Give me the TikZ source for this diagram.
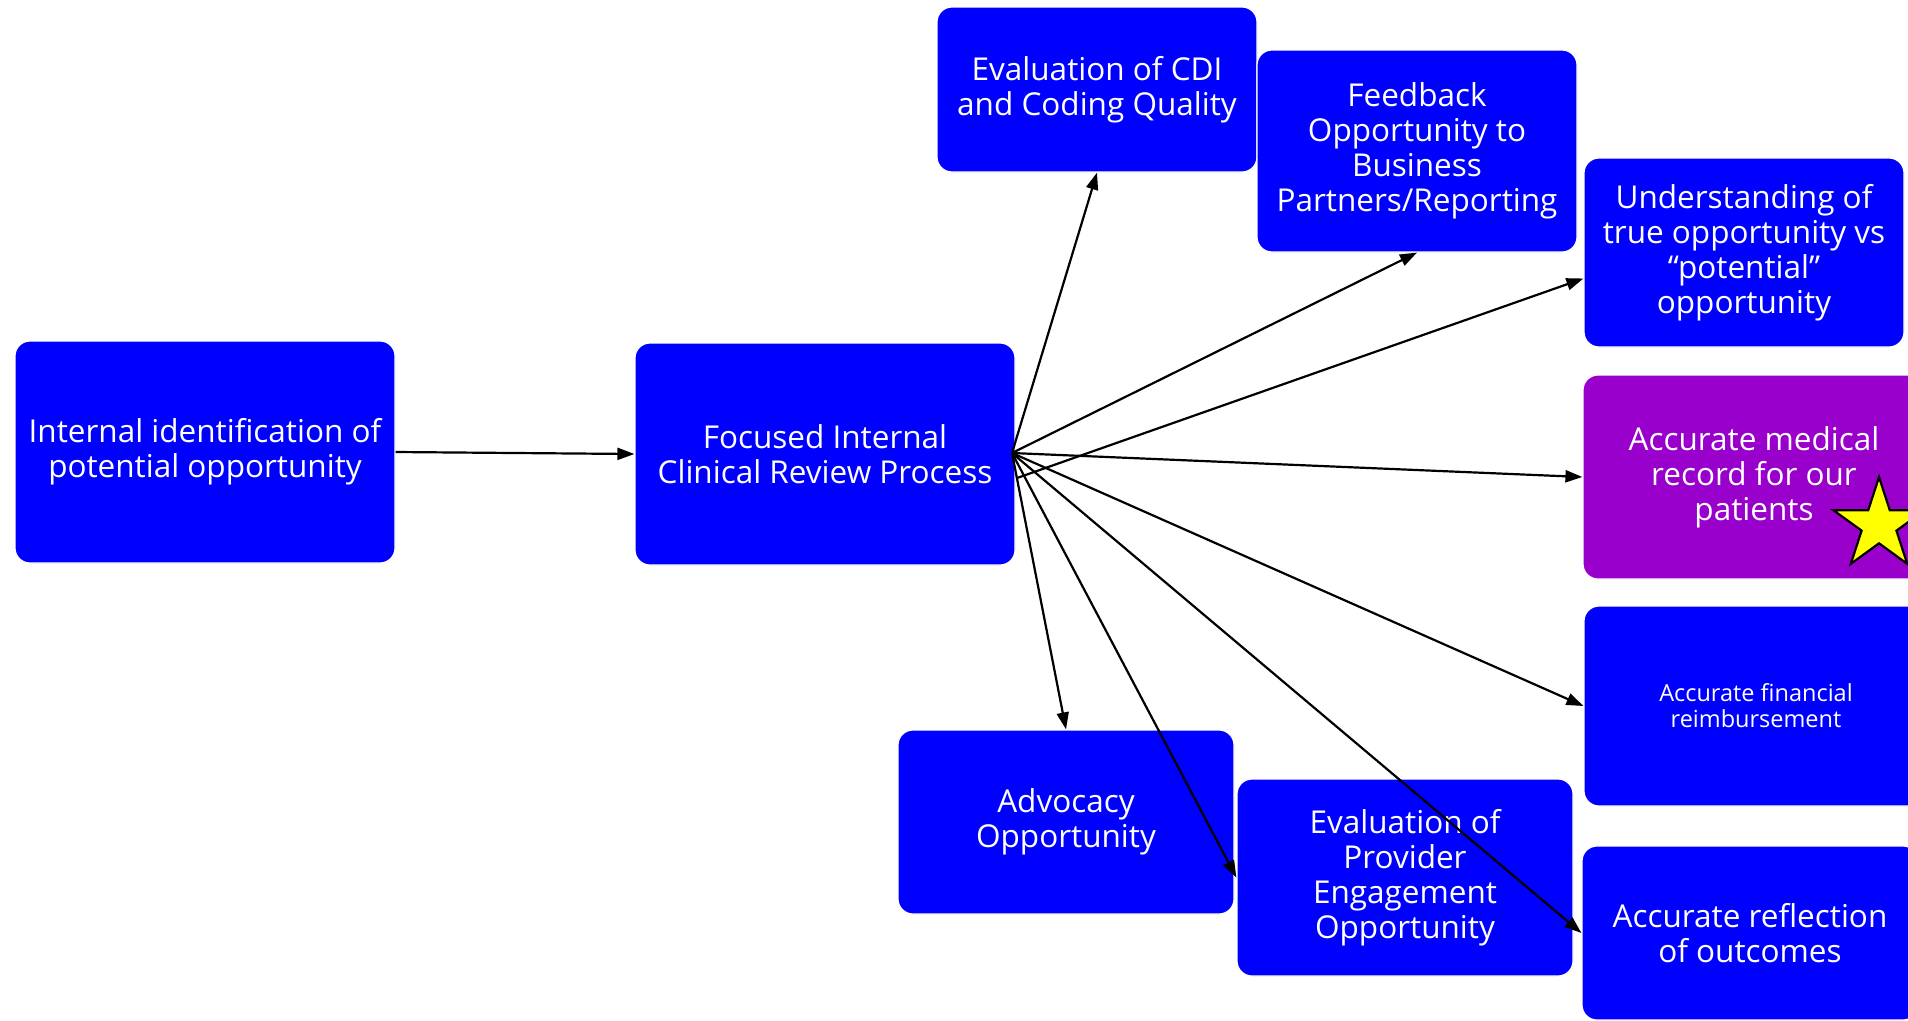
\documentclass[tikz,border=0pt]{standalone}
\usepackage{fontspec}
\setmainfont{Open Sans}
\usetikzlibrary{arrows.meta,calc}
\definecolor{boxblue}{HTML}{0000FF}
\definecolor{boxpurple}{HTML}{9900CC}
\definecolor{staryellow}{HTML}{FFFF00}

\begin{document}
\begin{tikzpicture}[x=1pt,y=-1pt,
  box/.style={draw=white, line width=1.2pt, fill=boxblue, rounded corners=15pt,
    text=white, align=center, inner sep=0pt, font=\fontsize{31.5}{35}\selectfont},
  smalltext/.style={font=\fontsize{23.5}{26}\selectfont},
  link/.style={draw=black, line width=2.2pt, -{Triangle[length=17pt,width=12pt]}},
  starshape/.style={draw=black, line width=2.2pt, fill=staryellow, line join=miter},
]
\path[use as bounding box] (0,0) rectangle (1908,1020);
\clip (0,0) rectangle (1908,1020);
\fill[white] (0,0) rectangle (1908,1020);

% process boxes
\node[box, minimum width=380pt, minimum height=222pt] (ident) at (205,452)
  {Internal identification of\\potential opportunity};
\node[box, minimum width=380pt, minimum height=222pt] (review) at (825,454)
  {Focused Internal\\Clinical Review Process};

% outcome boxes, upper group
\node[box, minimum width=320pt, minimum height=165pt] (cdi) at (1097,89.5)
  {Evaluation of CDI\\and Coding Quality};
\node[box, minimum width=320pt, minimum height=202pt] (feedback) at (1417,151)
  {Feedback\\Opportunity to\\Business\\Partners/Reporting};
\node[box, minimum width=320pt, minimum height=189pt] (understand) at (1744,252.5)
  {Understanding of\\true opportunity vs\\``potential''\\opportunity};
\node[box, fill=boxpurple, minimum width=342pt, minimum height=204pt] (record) at (1754,477)
  {Accurate medical\\record for our\\patients};
\node[box, smalltext, minimum width=344pt, minimum height=200pt] (finance) at (1756,706)
  {Accurate financial\\reimbursement};

% outcome boxes, lower group
\node[box, minimum width=336pt, minimum height=184pt] (advocacy) at (1066,822)
  {Advocacy\\Opportunity};
\node[box, minimum width=336pt, minimum height=197pt] (provider) at (1405,877.5)
  {Evaluation of\\Provider\\Engagement\\Opportunity};
\node[box, minimum width=336pt, minimum height=174pt] (outcomes) at (1750,933)
  {Accurate reflection\\of outcomes};

% star marking the key outcome
\draw[starshape, shift={(1879,525)}]
  (270:48) -- (306:18.3) -- (342:48) -- (18:18.3) -- (54:48) -- (90:18.3)
  -- (126:48) -- (162:18.3) -- (198:48) -- (234:18.3) -- cycle;

% fan-out points on the review box
\coordinate (hub) at (1012,453);
\coordinate (hublow) at (1017,478);

% connectors
\draw[link] (ident.east) -- (review.west);
\draw[link] (hub) -- (cdi.south);
\draw[link] (hub) -- (feedback.south);
\draw[link] (hublow) -- ($(understand.west)+(0,26)$);
\draw[link] (hub) -- (record.west);
\draw[link] (hub) -- (finance.west);
\draw[link] (hub) -- (advocacy.north);
\draw[link] (hub) -- (provider.west);
\draw[link] (hub) -- (outcomes.west);
\end{tikzpicture}
\end{document}
